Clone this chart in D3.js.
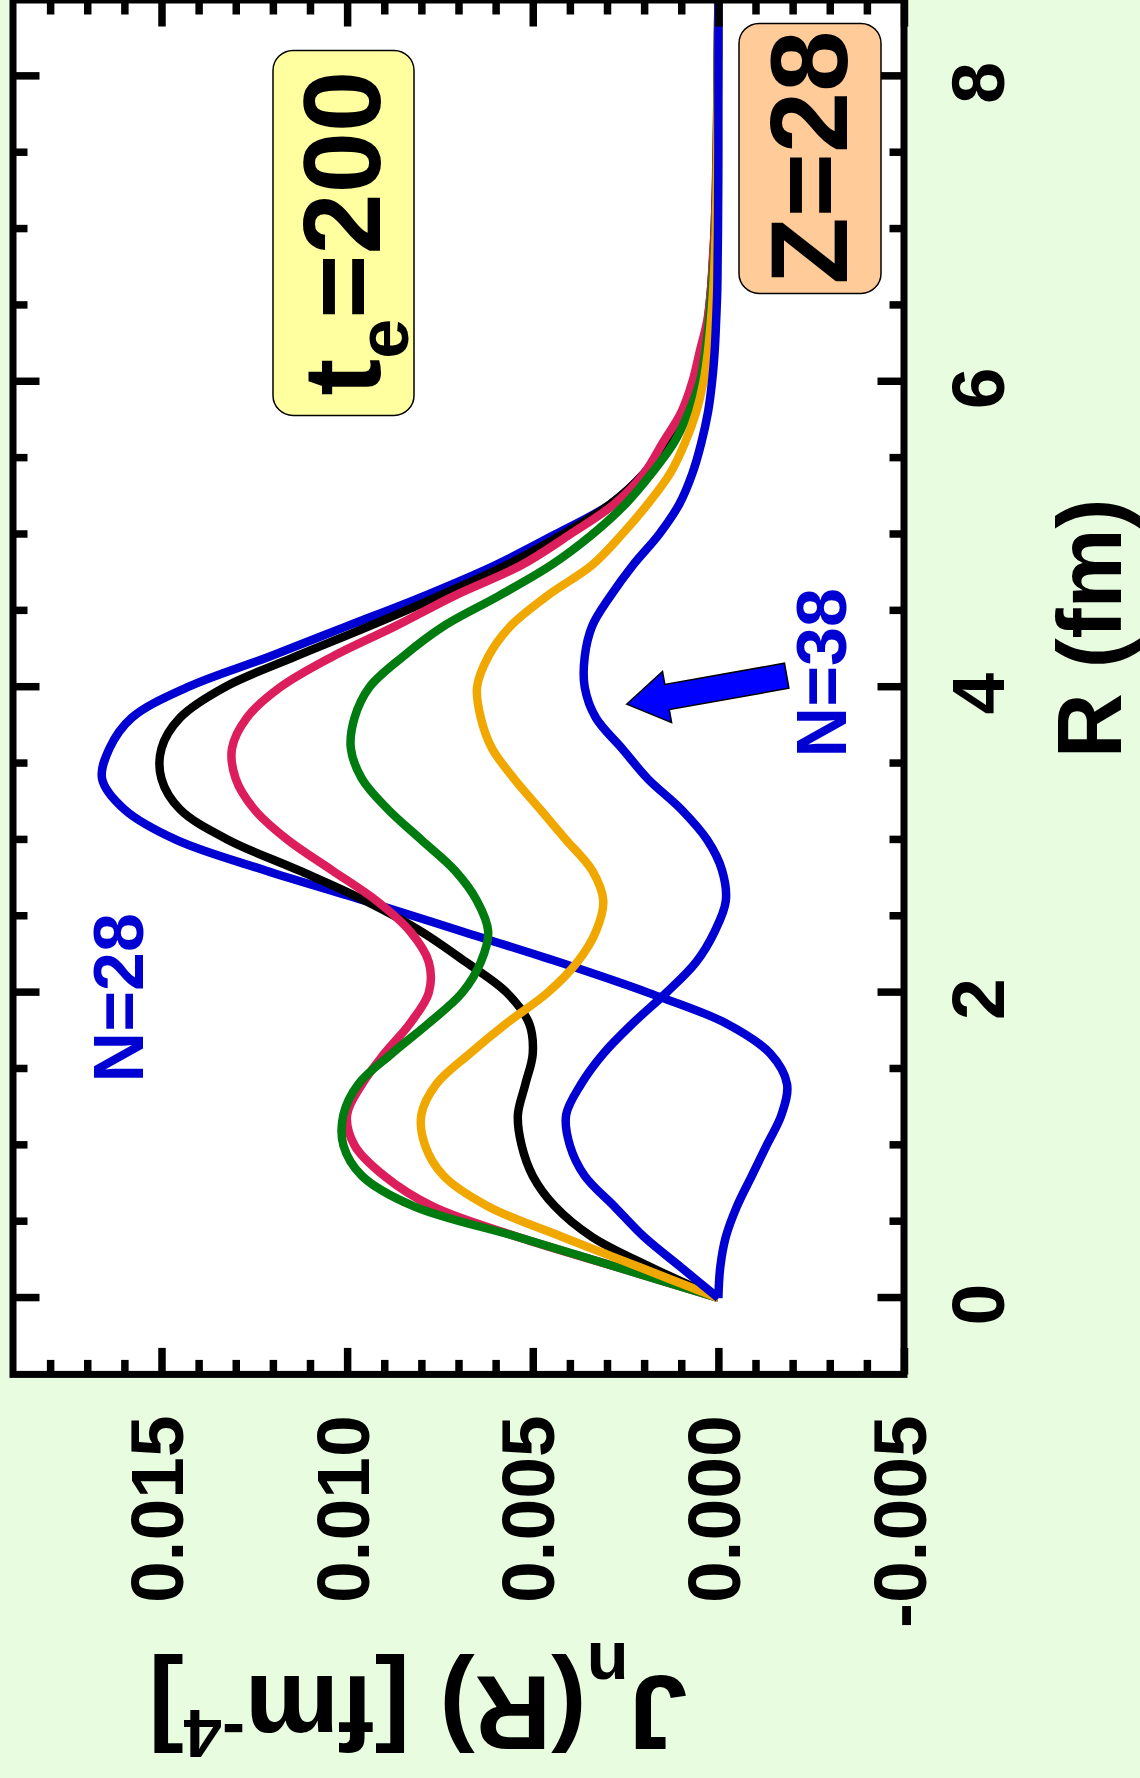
<!DOCTYPE html>
<html>
<head>
<meta charset="utf-8">
<script src="https://cdn.jsdelivr.net/npm/d3@7"></script>
<style>
  body { margin: 0; background: #e8fce0; }
  svg { display: block; }
  text { font-family: "Liberation Sans", Arial, Helvetica, sans-serif; font-weight: bold; }
</style>
</head>
<body>
<div id="chart"></div>
<script>
// R grid (fm) shared by all curves
const R_VALUES = [0, 0.2, 0.4, 0.6, 0.8, 1.0, 1.2, 1.4, 1.6, 1.8, 2.0, 2.2, 2.4, 2.6, 2.8, 3.0, 3.2, 3.4, 3.6, 3.8,
                  4.0, 4.2, 4.4, 4.6, 4.8, 5.0, 5.2, 5.4, 5.6, 5.8, 6.0, 6.2, 6.4, 6.6, 6.8, 7.0, 7.5, 8.0, 8.5]

// J_n(R) in fm^-4
const J_N28 = [0, -0.00005, -0.0002, -0.0005, -0.0009, -0.0013, -0.0017, -0.00185, -0.0014, -0.0002, 0.0019, 0.0043, 0.0069, 0.0095, 0.0122, 0.0146, 0.0160, 0.0166, 0.0164, 0.0158,
               0.0143, 0.0121, 0.0100, 0.0079, 0.0060, 0.0044, 0.0029, 0.0020, 0.0014, 0.0009, 0.0005, 0.00035, 0.00025, 0.00018, 0.00012, 0.00008, 0.00003, 0.00001, 0]
const J_N30 = [0, 0.0018, 0.0034, 0.0044, 0.0050, 0.0053, 0.0054, 0.0052, 0.0050, 0.0051, 0.0057, 0.0068, 0.0080, 0.0095, 0.0113, 0.0132, 0.0145, 0.0150, 0.0150, 0.0145,
               0.0133, 0.0114, 0.0094, 0.0075, 0.0057, 0.0042, 0.0029, 0.0020, 0.0014, 0.0009, 0.0006, 0.0004, 0.00028, 0.0002, 0.00014, 0.0001, 0.00004, 0.00002, 0]
const J_N32 = [0, 0.0027, 0.0054, 0.0077, 0.0090, 0.0098, 0.0100, 0.0096, 0.0090, 0.0083, 0.0078, 0.0078, 0.0083, 0.0092, 0.0104, 0.0116, 0.0125, 0.0130, 0.0131, 0.0127,
               0.0118, 0.0104, 0.0087, 0.0071, 0.0053, 0.0040, 0.0028, 0.0020, 0.0015, 0.0010, 0.0007, 0.0005, 0.0003, 0.0002, 0.00015, 0.0001, 0.00005, 0.00002, 0]
const J_N34 = [0, 0.0027, 0.0054, 0.0082, 0.0096, 0.0101, 0.0101, 0.0097, 0.0088, 0.0078, 0.0069, 0.0064, 0.0062, 0.0065, 0.0071, 0.0080, 0.0089, 0.0096, 0.0099, 0.0098,
               0.0094, 0.0085, 0.0074, 0.0059, 0.0045, 0.0034, 0.0025, 0.0018, 0.0012, 0.0008, 0.0005, 0.00035, 0.00025, 0.00018, 0.00012, 0.00008, 0.00004, 0.00002, 0]
const J_N36 = [0, 0.0021, 0.0042, 0.0062, 0.0074, 0.0079, 0.0080, 0.0076, 0.0067, 0.0057, 0.0046, 0.0038, 0.0033, 0.0031, 0.0034, 0.0041, 0.0048, 0.0055, 0.0061, 0.0064,
               0.0065, 0.0062, 0.0056, 0.0046, 0.0034, 0.0026, 0.0019, 0.0013, 0.0009, 0.0006, 0.0004, 0.00028, 0.0002, 0.00014, 0.0001, 0.00007, 0.00003, 0.00001, 0]
const J_N38 = [0, 0.0010, 0.0020, 0.0028, 0.0036, 0.0040, 0.0041, 0.0037, 0.0031, 0.0023, 0.0014, 0.0006, 0.0001, -0.0002, -0.0001, 0.0003, 0.0010, 0.0019, 0.0026, 0.0033,
               0.0036, 0.0036, 0.0034, 0.0029, 0.0023, 0.0016, 0.00105, 0.0007, 0.00046, 0.00028, 0.00017, 0.0001, 0.00006, 0.00003, 0.00002, 0.00001, 0, 0, 0]

const SERIES = [J_N28, J_N30, J_N32, J_N34, J_N36, J_N38]
const COLORS = ['#0000d2', '#000000', '#dc1e5c', '#007b10', '#f0a800', '#0000d2']

const R_TICKS = [0, 2, 4, 6, 8]
const R_MINOR = [0.5, 1, 1.5, 2.5, 3, 3.5, 4.5, 5, 5.5, 6.5, 7, 7.5]
const J_TICKS = [-0.005, 0, 0.005, 0.010, 0.015]
const J_MINOR = [-0.004, -0.003, -0.002, -0.001, 0.001, 0.002, 0.003, 0.004, 0.006, 0.007, 0.008, 0.009,
                 0.011, 0.012, 0.013, 0.014, 0.016, 0.017, 0.018]

const W = 1140, H = 1778
const svg = d3.select('#chart').append('svg').attr('width', W).attr('height', H)
svg.append('rect').attr('width', W).attr('height', H).attr('fill', '#e8fce0')

// whole figure lies on its side: draw a normal chart, then turn it
const root = svg.append('g').attr('transform', `translate(0, ${H}) rotate(-90)`)

const margin = {left: 403.6, top: 13}
const width = 1374.4, height = 891
const plot = root.append('g').attr('transform', `translate(${margin.left}, ${margin.top})`)

const x = d3.scaleLinear().domain([-0.5, 8.5]).range([0, width])
const y = d3.scaleLinear().domain([-0.005, 0.019]).range([height, 0])

plot.append('rect').attr('width', width).attr('height', height).attr('fill', '#fff')

plot.append('clipPath').attr('id', 'clip')
    .append('rect').attr('width', width).attr('height', height)

const line = d3.line()
    .x((d, i) => x(R_VALUES[i]))
    .y(d => y(d))
    .curve(d3.curveCatmullRom.alpha(0.5))

const curves = plot.append('g').attr('clip-path', 'url(#clip)')
SERIES.forEach((s, i) => {
    curves.append('path')
        .attr('d', line(s))
        .attr('fill', 'none')
        .attr('stroke', COLORS[i])
        .attr('stroke-width', 8.5)
        .attr('stroke-linejoin', 'round')
})

// ticks on all four sides, pointing inwards
function styleTicks(g) {
    g.select('.domain').remove()
    g.selectAll('.tick line').attr('stroke', '#000').attr('stroke-width', 7.5)
}
const major = 26.5, minor = 14.5

const xBottom = plot.append('g').attr('transform', `translate(0, ${height})`)
    .call(d3.axisBottom(x).tickValues(R_TICKS).tickSize(-major).tickSizeOuter(0).tickFormat(d3.format('d')))
    .call(styleTicks)
xBottom.selectAll('text')
    .attr('y', 100).attr('dy', null).attr('x', -7)
    .attr('fill', '#000').style('font-size', '75px')
plot.append('g').attr('transform', `translate(0, ${height})`)
    .call(d3.axisBottom(x).tickValues(R_MINOR).tickSize(-minor).tickSizeOuter(0).tickFormat(''))
    .call(styleTicks)
plot.append('g')
    .call(d3.axisTop(x).tickValues(R_TICKS).tickSize(-major).tickSizeOuter(0).tickFormat(''))
    .call(styleTicks)
plot.append('g')
    .call(d3.axisTop(x).tickValues(R_MINOR).tickSize(-minor).tickSizeOuter(0).tickFormat(''))
    .call(styleTicks)

const yLeft = plot.append('g')
    .call(d3.axisLeft(y).tickValues(J_TICKS).tickSize(-major).tickSizeOuter(0).tickFormat(d => d.toFixed(3)))
    .call(styleTicks)
yLeft.selectAll('text')
    .attr('x', -41).attr('y', 21).attr('dy', null)
    .attr('fill', '#000').style('font-size', '75px')
plot.append('g')
    .call(d3.axisLeft(y).tickValues(J_MINOR).tickSize(-minor).tickSizeOuter(0).tickFormat(''))
    .call(styleTicks)
plot.append('g').attr('transform', `translate(${width}, 0)`)
    .call(d3.axisRight(y).tickValues(J_TICKS).tickSize(-major).tickSizeOuter(0).tickFormat(''))
    .call(styleTicks)
plot.append('g').attr('transform', `translate(${width}, 0)`)
    .call(d3.axisRight(y).tickValues(J_MINOR).tickSize(-minor).tickSizeOuter(0).tickFormat(''))
    .call(styleTicks)

plot.append('rect')
    .attr('width', width).attr('height', height)
    .attr('fill', 'none').attr('stroke', '#000').attr('stroke-width', 7)

// axis titles
plot.append('text')
    .attr('x', 746).attr('y', 1108)
    .attr('text-anchor', 'middle')
    .style('font-size', '90px')
    .text('R (fm)')

const yTitle = plot.append('text')
    .attr('transform', `translate(${102 - margin.left}, ${418 - margin.top}) rotate(-90)`)
    .attr('text-anchor', 'middle')
    .style('font-size', '106px')
yTitle.append('tspan').text('J')
yTitle.append('tspan').attr('dy', 33).style('font-size', '69px').text('n')
yTitle.append('tspan').attr('dy', -33).text('(R) [fm')
yTitle.append('tspan').attr('dy', -34).style('font-size', '69px').text('-4')
yTitle.append('tspan').attr('dy', 34).text(']')

// boxed labels
const teBox = plot.append('g')
teBox.append('rect')
    .attr('x', 959).attr('y', 260).attr('width', 365).attr('height', 141).attr('rx', 20)
    .attr('fill', '#ffff9f').attr('stroke', '#000').attr('stroke-width', 1.5)
const teText = teBox.append('text')
    .attr('x', 979).attr('y', 367)
    .style('font-size', '110px')
teText.append('tspan').text('t')
teText.append('tspan').attr('dy', 28).style('font-size', '72px').text('e')
teText.append('tspan').attr('dy', -28).text('=200')

const zBox = plot.append('g')
zBox.append('rect')
    .attr('x', 1081).attr('y', 726).attr('width', 270).attr('height', 142).attr('rx', 20)
    .attr('fill', '#ffcc99').attr('stroke', '#000').attr('stroke-width', 1.5)
zBox.append('text')
    .attr('x', 1090).attr('y', 834)
    .style('font-size', '110px')
    .text('Z=28')

// curve labels
plot.append('text')
    .attr('x', 292).attr('y', 130)
    .attr('fill', '#0000d2')
    .style('font-size', '70px')
    .text('N=28')
plot.append('text')
    .attr('x', 617).attr('y', 833)
    .attr('fill', '#0000d2')
    .style('font-size', '70px')
    .text('N=38')

// arrow pointing at the N=38 curve
const tip = [x(3.889), y(0.00247)]
const tail = [x(4.075), y(-0.00184)]
const len = Math.hypot(tail[0] - tip[0], tail[1] - tip[1])
const d = [(tail[0] - tip[0]) / len, (tail[1] - tip[1]) / len]
const n = [-d[1], d[0]]
const headLen = 41, headW = 26, shaftW = 12.7
const pt = (base, along, across) => [base[0] + d[0] * along + n[0] * across, base[1] + d[1] * along + n[1] * across]
const arrowPts = [
    tip,
    pt(tip, headLen, headW),
    pt(tip, headLen, shaftW),
    pt(tail, 0, shaftW),
    pt(tail, 0, -shaftW),
    pt(tip, headLen, -shaftW),
    pt(tip, headLen, -headW)
]
plot.append('path')
    .attr('d', d3.line()(arrowPts) + 'Z')
    .attr('fill', '#0000ff')
    .attr('stroke', '#000')
    .attr('stroke-width', 1.5)
</script>
</body>
</html>
